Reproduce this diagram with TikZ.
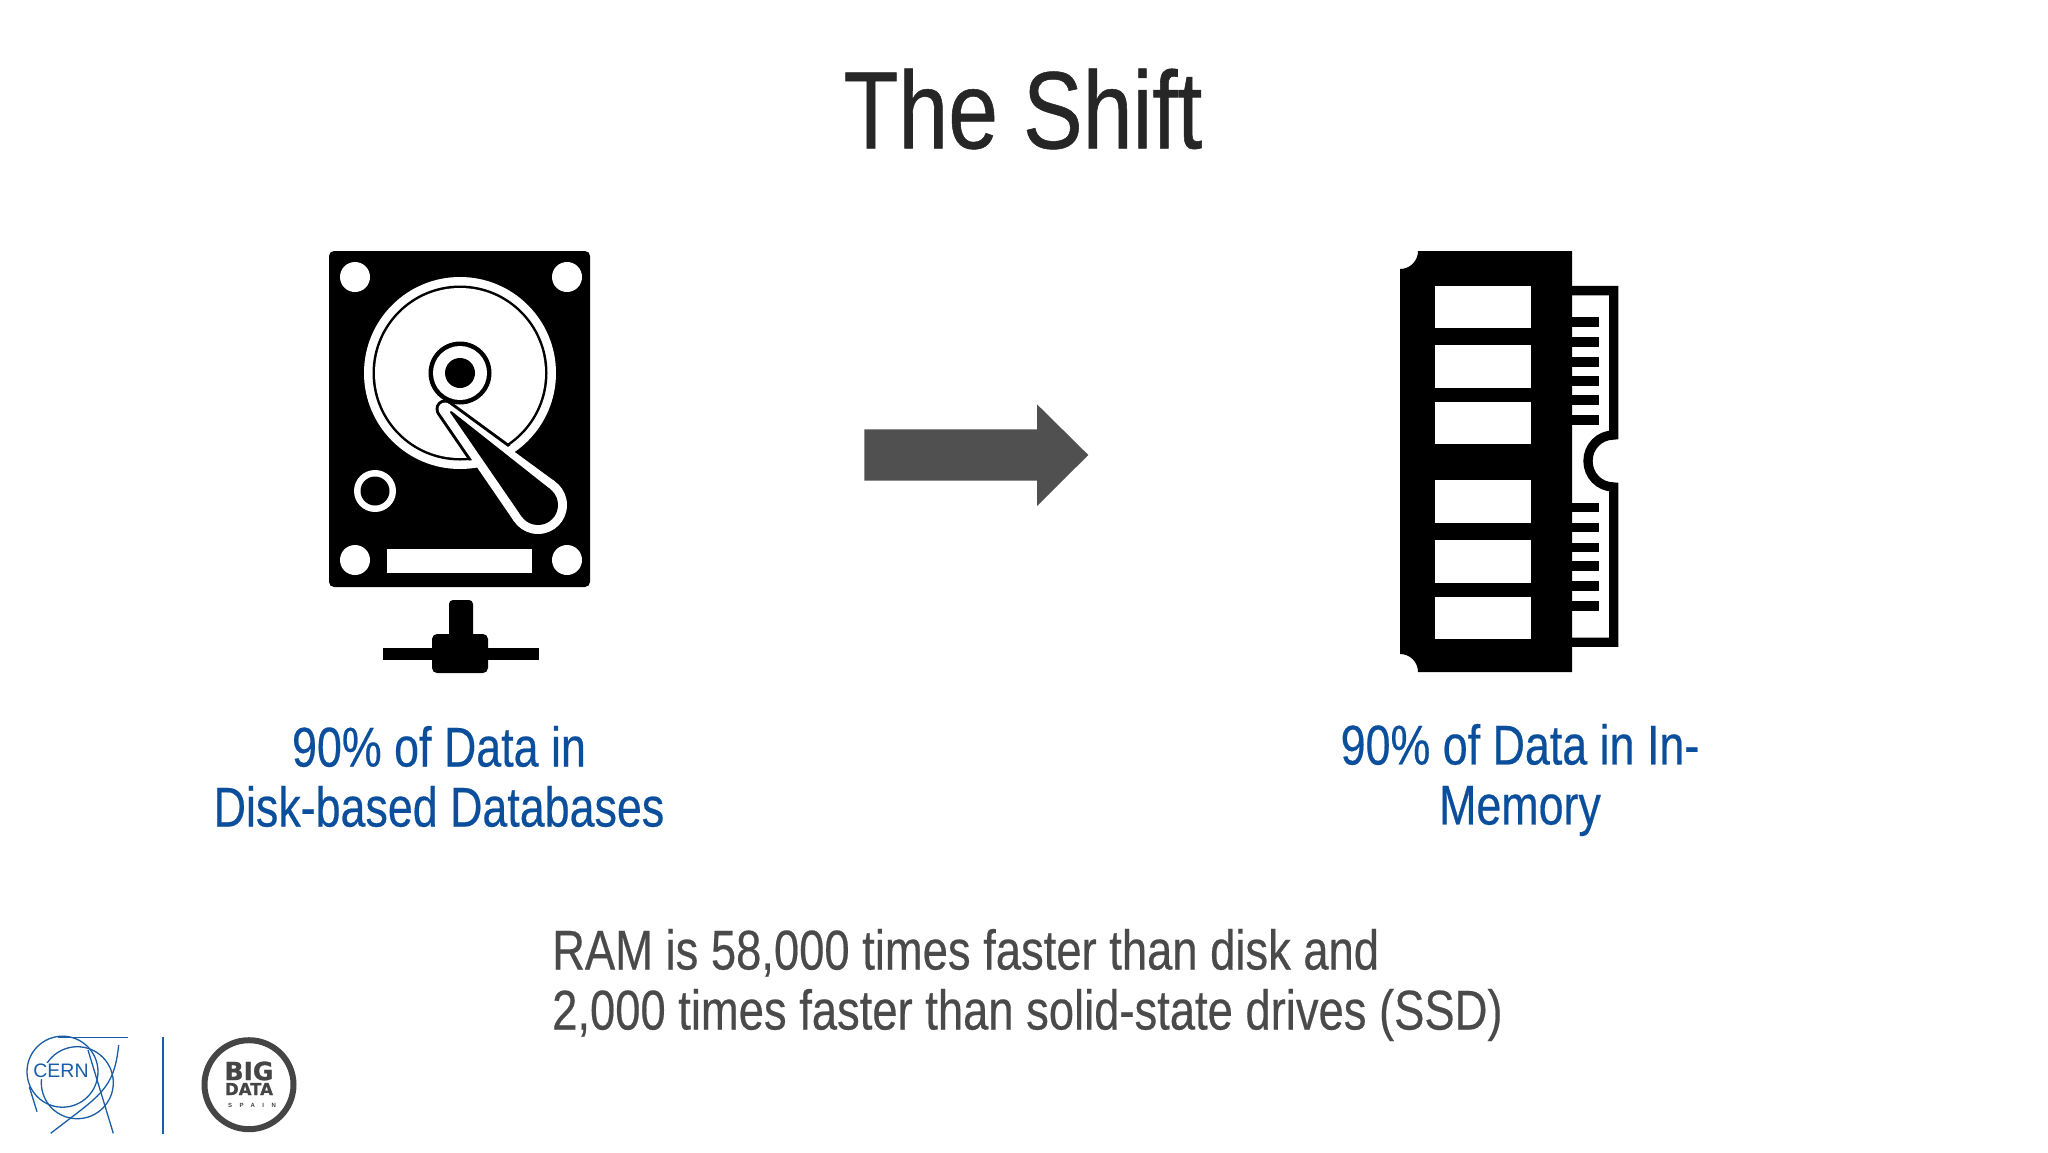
\documentclass[tikz,border=0pt]{standalone}
\usepackage{fontspec}
\setmainfont{Liberation Sans}
\newfontfamily\cond{Liberation Sans}[FakeStretch=0.80,FakeBold=0.35]
\newfontfamily\condram{Liberation Sans}[FakeStretch=0.81,FakeBold=0.35]
\newfontfamily\condtitle{Liberation Sans}[FakeStretch=0.815,FakeBold=0.5]
\newfontfamily\heavy{DejaVu Sans Bold}[FakeBold=1]
\newfontfamily\spaced{Liberation Sans Bold}[LetterSpace=125]
\definecolor{blueText}{HTML}{0B4F9C}
\definecolor{greyText}{HTML}{4A4A4A}
\definecolor{titleText}{HTML}{262626}
\definecolor{arrowGrey}{HTML}{505050}
\definecolor{cernBlue}{HTML}{1A5DA6}
\definecolor{bdsGrey}{HTML}{454545}
% convex hull of two circles: x1,y1,r1,x2,y2,r2
\newcommand\armhull[7]{%
  \pgfmathsetmacro\hth{atan2(#5-#2,#4-#1)}%
  \pgfmathsetmacro\hlen{veclen(#5-#2,#4-#1)}%
  \pgfmathsetmacro\hoff{asin((#6-#3)/\hlen)}%
  \pgfmathsetmacro\hpa{\hth+90+\hoff}%
  \pgfmathsetmacro\hpb{\hth-90-\hoff}%
  \fill[#7] (#1,#2) circle[radius=#3];
  \fill[#7] (#4,#5) circle[radius=#6];
  \fill[#7] ([shift={(\hpa:#3)}]#1,#2) -- ([shift={(\hpb:#3)}]#1,#2)
     -- ([shift={(\hpb:#6)}]#4,#5) -- ([shift={(\hpa:#6)}]#4,#5) -- cycle;
}
\tikzset{
  titleStyle/.style={font=\condtitle\fontsize{110}{110}\selectfont,text=titleText,inner sep=0pt},
  blueLabel/.style={font=\cond\fontsize{56}{60}\selectfont,text=blueText,align=center,inner sep=0pt},
  greyLabel/.style={font=\condram\fontsize{56}{60}\selectfont,text=greyText,align=left,inner sep=0pt},
  cernLine/.style={draw=cernBlue,line width=1.3pt},
}
\begin{document}
\begin{tikzpicture}[x=1pt,y=-1pt]
\useasboundingbox[fill=white] (0,0) rectangle (2048,1152);

\node[titleStyle] (title) at (1023,109) {The Shift};

% ---- hard disk
\fill[black,rounded corners=5pt] (329,251) rectangle (590,587);
\foreach \cx/\cy in {355/277,567/277,355/560,567/560}
  \fill[white] (\cx,\cy) circle[radius=15];
\fill[white] (460,373) circle[radius=96];
\fill[black] (460,373) circle[radius=87.5];
\fill[white] (460,373) circle[radius=85];
\begin{scope}
  \clip (460,373) circle[radius=88];
  \armhull{445}{409}{9.5}{538}{505}{32}{black}
\end{scope}
\armhull{445}{409}{6.5}{538}{505}{29}{white}
\armhull{451}{412}{1}{538}{505}{20}{black}
\fill[black] (460,373) circle[radius=31.5];
\fill[white] (460,373) circle[radius=27];
\fill[black] (460,373) circle[radius=15];
\fill[white] (375,491) circle[radius=21];
\fill[black] (375,491) circle[radius=14.5];
\fill[white] (387,549) rectangle (532,573);
\fill[black,rounded corners=4pt] (449,600) rectangle (473,645);
\fill[black,rounded corners=5pt] (432,634) rectangle (488,673);
\fill[black] (383,648) rectangle (539,660);

% ---- arrow
\fill[arrowGrey] (864.3,429.3) -- (1037,429.3) -- (1037,404.3) -- (1088.3,455)
  -- (1037,506) -- (1037,480.7) -- (864.3,480.7) -- cycle;

% ---- memory module
\fill[black] (1418,251) -- (1572,251) -- (1572,672) -- (1418,672)
  .. controls (1418,662) and (1410,654) .. (1400,654)
  -- (1400,269) .. controls (1410,269) and (1418,261) .. (1418,251) -- cycle;
\foreach \ya/\yb in {286/328,345/388,402/444,480/523,540/583,597/639}
  \fill[white] (1435,\ya) rectangle (1531,\yb);
\draw[black,line width=9.3pt,miter limit=10]
  (1572,290.6) -- (1613.7,290.6) -- (1613.7,435)
  .. controls (1599.3,435) and (1588,446.6) .. (1588,461)
  .. controls (1588,475.4) and (1599.3,487) .. (1613.7,487)
  -- (1613.7,642.3) -- (1572,642.3);
\foreach \yy in {321.7,341.7,361.7,380.7,400,420,507.3,527.3,547.3,565.7,585.7,605.7}
  \fill[black] (1571,\yy-4.8) rectangle (1599,\yy+4.8);

% ---- labels
\node[blueLabel] (leftLabel) at (439,776.5) {90\% of Data in\\Disk-based Databases};
\node[blueLabel] (rightLabel) at (1520,780) {90\% of Data in In-\\Memory};
\node[greyLabel,anchor=west] (ramLabel) at (552,985) {RAM is 58,000 times faster than disk and\\2,000 times faster than solid-state drives (SSD)};

% ---- CERN logo
\draw[cernLine] (62.5,1071.7) circle[radius=35.5];
\draw[cernLine] (77.3,1082.7) circle[radius=36];
\draw[cernLine] (58.3,1037.3) -- (127.7,1037.3);
\draw[cernLine] (118.7,1045) .. controls (114,1090) and (100,1095) .. (50.7,1133.3);
\draw[cernLine] (88,1050) -- (113.3,1133.3);
\draw[cernLine] (29.3,1086.7) -- (37,1111.7);
\node[font=\fontsize{19.5}{20}\selectfont,text=cernBlue,fill=white,inner sep=1.5pt] (cernText) at (61,1071) {CERN};
\coordinate (sepTop) at (162.7,1036.7);
\coordinate (sepBot) at (162.7,1134);
\draw[cernBlue,line width=1.6pt] (sepTop) -- (sepBot);

% ---- Big Data Spain logo
\draw[bdsGrey,line width=6pt] (249,1084.7) circle[radius=44.5];
\node[font=\heavy\fontsize{25}{25}\selectfont,text=bdsGrey,inner sep=0pt] (bdsBig) at (249,1071) {BIG};
\node[font=\heavy\fontsize{16.5}{16.5}\selectfont,text=bdsGrey,inner sep=0pt] (bdsData) at (249,1089) {DATA};
\node[font=\spaced\fontsize{6}{6}\selectfont,text=bdsGrey,inner sep=0pt] (bdsSpain) at (252,1105) {SPAIN};
\end{tikzpicture}
\end{document}
